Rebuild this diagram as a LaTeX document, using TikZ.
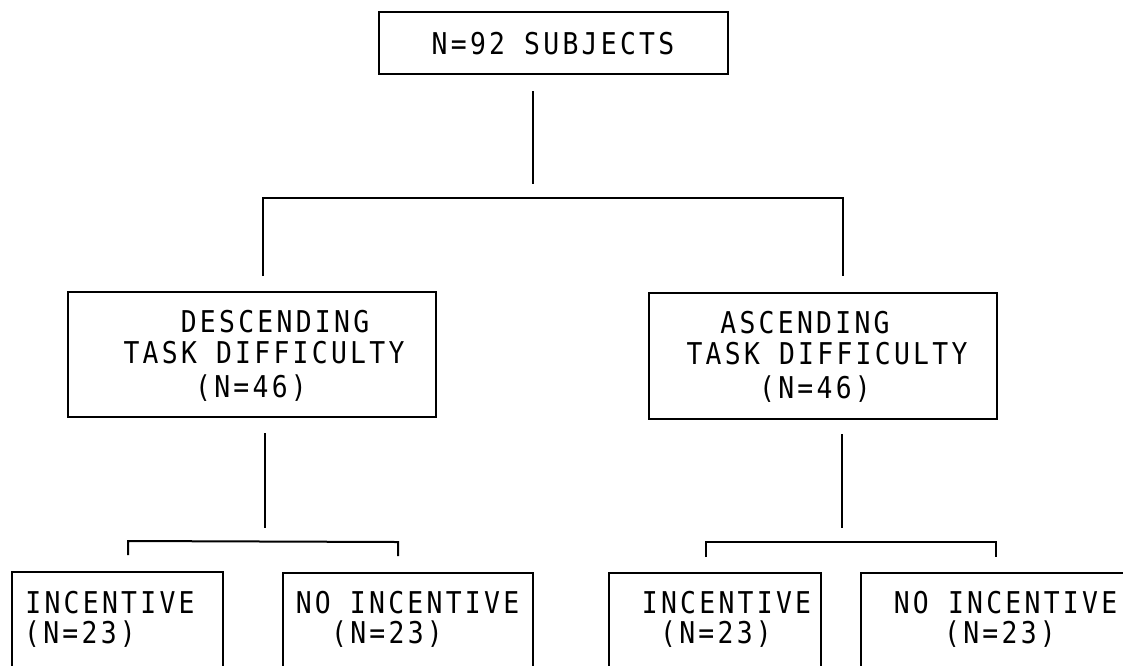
\documentclass[tikz,border=0pt]{standalone}
\usepackage{fontspec}
\newfontfamily\typfont[FakeStretch=0.88,LetterSpace=10.9]{DejaVu Sans Mono}
\usetikzlibrary{calc}
\tikzset{
  box/.style={draw, line width=2pt, rectangle, inner sep=0pt},
  lbl/.style={font=\typfont\fontsize{30pt}{31pt}\selectfont, inner sep=0pt, anchor=base},
  link/.style={line width=2pt, line join=miter}
}
\begin{document}
\begin{tikzpicture}[x=1pt,y=-1pt]
\useasboundingbox (0,0) rectangle (1123,665);
\clip (0,0) rectangle (1123,665);
% boxes
\node[box, minimum width=349pt, minimum height=62pt] (top) at (553.5,43) {};
\node[box, minimum width=368pt, minimum height=125pt] (desc) at (252,354.5) {};
\node[box, minimum width=348pt, minimum height=126pt] (asc) at (823,356) {};
\node[box, minimum width=211pt, minimum height=128pt] (b1) at (117.5,636) {};
\node[box, minimum width=250pt, minimum height=128pt] (b2) at (408,637) {};
\node[box, minimum width=212pt, minimum height=128pt] (b3) at (715,637) {};
\node[box, minimum width=279pt, minimum height=128pt] (b4) at (1000.5,637) {};
% labels
\node[lbl] (t0) at (553,54) {N=92 SUBJECTS};
\node[lbl] (d1) at (275,332) {DESCENDING};
\node[lbl] (d2) at (264,363) {TASK DIFFICULTY};
\node[lbl] (d3) at (251,397) {(N=46)};
\node[lbl] (a1) at (805,333) {ASCENDING};
\node[lbl] (a2) at (827,364) {TASK DIFFICULTY};
\node[lbl] (a3) at (815,398) {(N=46)};
\node[lbl] (p1) at (110,613) {INCENTIVE};
\node[lbl] (p2) at (80,643) {(N=23)};
\node[lbl] (q1) at (407.5,613) {NO INCENTIVE};
\node[lbl] (q2) at (387,643) {(N=23)};
\node[lbl] (r1) at (726.5,613) {INCENTIVE};
\node[lbl] (r2) at (716,643) {(N=23)};
\node[lbl] (s1) at (1005.5,613) {NO INCENTIVE};
\node[lbl] (s2) at (1000,643) {(N=23)};
% connector points
\coordinate (c0a) at ($(top.south)+(-20.5,16)$);
\coordinate (c0b) at ($(top.south)+(-20.5,109)$);
\coordinate (k1) at ($(desc.north)+(11,-15)$);
\coordinate (k1t) at ($(desc.north)+(11,-93)$);
\coordinate (k2) at ($(asc.north)+(20,-16)$);
\coordinate (k2t) at ($(asc.north)+(20,-94)$);
\coordinate (c1a) at ($(desc.south)+(13,15)$);
\coordinate (c1b) at ($(desc.south)+(13,110)$);
\coordinate (c2a) at ($(asc.south)+(19,14)$);
\coordinate (c2b) at ($(asc.south)+(19,108)$);
\coordinate (m1) at ($(b1.north)+(10.5,-16)$);
\coordinate (m1t) at ($(b1.north)+(10.5,-30)$);
\coordinate (m2) at ($(b2.north)+(-10,-16)$);
\coordinate (m2t) at ($(b2.north)+(-10,-30)$);
\coordinate (n1) at ($(b3.north)+(-9,-15)$);
\coordinate (n1t) at ($(b3.north)+(-9,-30)$);
\coordinate (n2) at ($(b4.north)+(-4.5,-15)$);
\coordinate (n2t) at ($(b4.north)+(-4.5,-30)$);
% connectors
\draw[link] (c0a) -- (c0b);
\draw[link] (k1) -- (k1t) -- (k2t) -- (k2);
\draw[link] (c1a) -- (c1b);
\draw[link] (m1) -- (m1t) -- (m2t) -- (m2);
\draw[link] (c2a) -- (c2b);
\draw[link] (n1) -- (n1t) -- (n2t) -- (n2);
\end{tikzpicture}
\end{document}
